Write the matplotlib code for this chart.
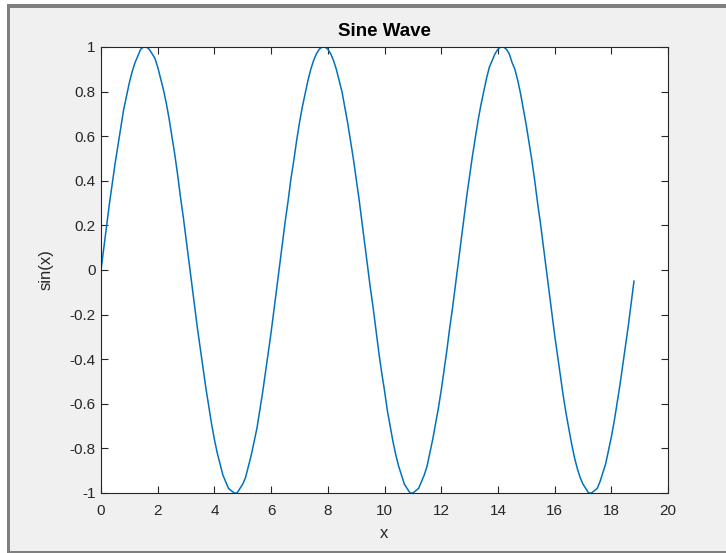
import numpy as np
import matplotlib
matplotlib.use("Agg")
from matplotlib import pyplot as plt
from matplotlib.patches import Rectangle

x_step = 0.1
y_vals = [0.00, 0.10, 0.20, 0.30, 0.39, 0.48, 0.56, 0.64, 0.72, 0.78,
          0.84, 0.89, 0.93, 0.96, 0.99, 1.00, 1.00, 0.99, 0.97, 0.95,
          0.91, 0.86, 0.81, 0.75, 0.68, 0.60, 0.52, 0.43, 0.33, 0.24,
          0.14, 0.04, -0.06, -0.16, -0.26, -0.35, -0.44, -0.53, -0.61, -0.69,
          -0.76, -0.82, -0.87, -0.92, -0.95, -0.98, -0.99, -1.00, -1.00, -0.98,
          -0.96, -0.93, -0.88, -0.83, -0.77, -0.71, -0.63, -0.55, -0.46, -0.37,
          -0.28, -0.18, -0.08, 0.02, 0.12, 0.22, 0.31, 0.41, 0.49, 0.58,
          0.66, 0.73, 0.79, 0.85, 0.90, 0.94, 0.97, 0.99, 1.00, 1.00,
          0.99, 0.97, 0.94, 0.90, 0.85, 0.80, 0.73, 0.66, 0.58, 0.50,
          0.41, 0.32, 0.22, 0.12, 0.02, -0.08, -0.17, -0.27, -0.37, -0.46,
          -0.54, -0.63, -0.70, -0.77, -0.83, -0.88, -0.92, -0.96, -0.98, -1.00,
          -1.00, -0.99, -0.98, -0.95, -0.92, -0.88, -0.82, -0.76, -0.69, -0.62,
          -0.54, -0.45, -0.36, -0.26, -0.17, -0.07, 0.03, 0.13, 0.23, 0.33,
          0.42, 0.51, 0.59, 0.67, 0.74, 0.80, 0.86, 0.91, 0.94, 0.97,
          0.99, 1.00, 1.00, 0.99, 0.97, 0.93, 0.90, 0.85, 0.79, 0.72,
          0.65, 0.57, 0.49, 0.40, 0.30, 0.21, 0.11, 0.01, -0.09, -0.19,
          -0.29, -0.38, -0.47, -0.56, -0.64, -0.71, -0.78, -0.84, -0.89, -0.93,
          -0.96, -0.98, -1.00, -1.00, -0.99, -0.98, -0.95, -0.91, -0.87, -0.81,
          -0.75, -0.68, -0.60, -0.52, -0.43, -0.34, -0.25, -0.15, -0.05]
x_vals = np.round(np.arange(len(y_vals)) * x_step, 1)

xticks = [0, 2, 4, 6, 8, 10, 12, 14, 16, 18, 20]
yticks = [-1, -0.8, -0.6, -0.4, -0.2, 0, 0.2, 0.4, 0.6, 0.8, 1]
ytick_labels = ["-1", "-0.8", "-0.6", "-0.4", "-0.2", "0", "0.2", "0.4", "0.6", "0.8", "1"]

plt.rcParams['font.family'] = ['Liberation Sans', 'DejaVu Sans']
txt = "#262626"
frame = "#7f7f7f"

W, H = 726, 553
fig = plt.figure(figsize=(W / 100, H / 100), dpi=100, facecolor="#f0f0f0")


def band(x0, y0, x1, y1, color):
    # pixel box, y measured from the top
    fig.patches.append(Rectangle((x0 / W, 1 - y1 / H), (x1 - x0) / W, (y1 - y0) / H,
                                 transform=fig.transFigure, facecolor=color,
                                 edgecolor="none", zorder=-5))


# window frame
band(0, 0, 7, H, "white")
band(0, 0, W, 4, "white")
band(7, 4, 10, H, frame)
band(7, 4, W, 8, frame)
band(7, 551, W, H, frame)

ax = fig.add_axes([101 / W, 1 - 493 / H, (668 - 101) / W, (493 - 47) / H])
ax.plot(x_vals, y_vals, color="#0072BD", lw=1.1)

ax.set_xlim(0, 20)
ax.set_ylim(-1, 1)
ax.set_xticks(xticks)
ax.set_yticks(yticks)
ax.set_yticklabels(ytick_labels)
ax.tick_params(direction="in", length=5, width=0.8, colors=txt, labelsize=11,
               top=True, right=True, pad=4)
ax.tick_params(axis="x", pad=8)
for s in ax.spines.values():
    s.set_color(txt)
    s.set_linewidth(0.8)

ax.set_title("Sine Wave", fontsize=13.5, fontweight="bold", color="black", pad=8)
ax.set_xlabel("x", fontsize=12, color=txt, labelpad=6)
ax.set_ylabel("sin(x)", fontsize=12, color=txt, labelpad=11)

fig.savefig("out.png", dpi=100, facecolor=fig.get_facecolor())
